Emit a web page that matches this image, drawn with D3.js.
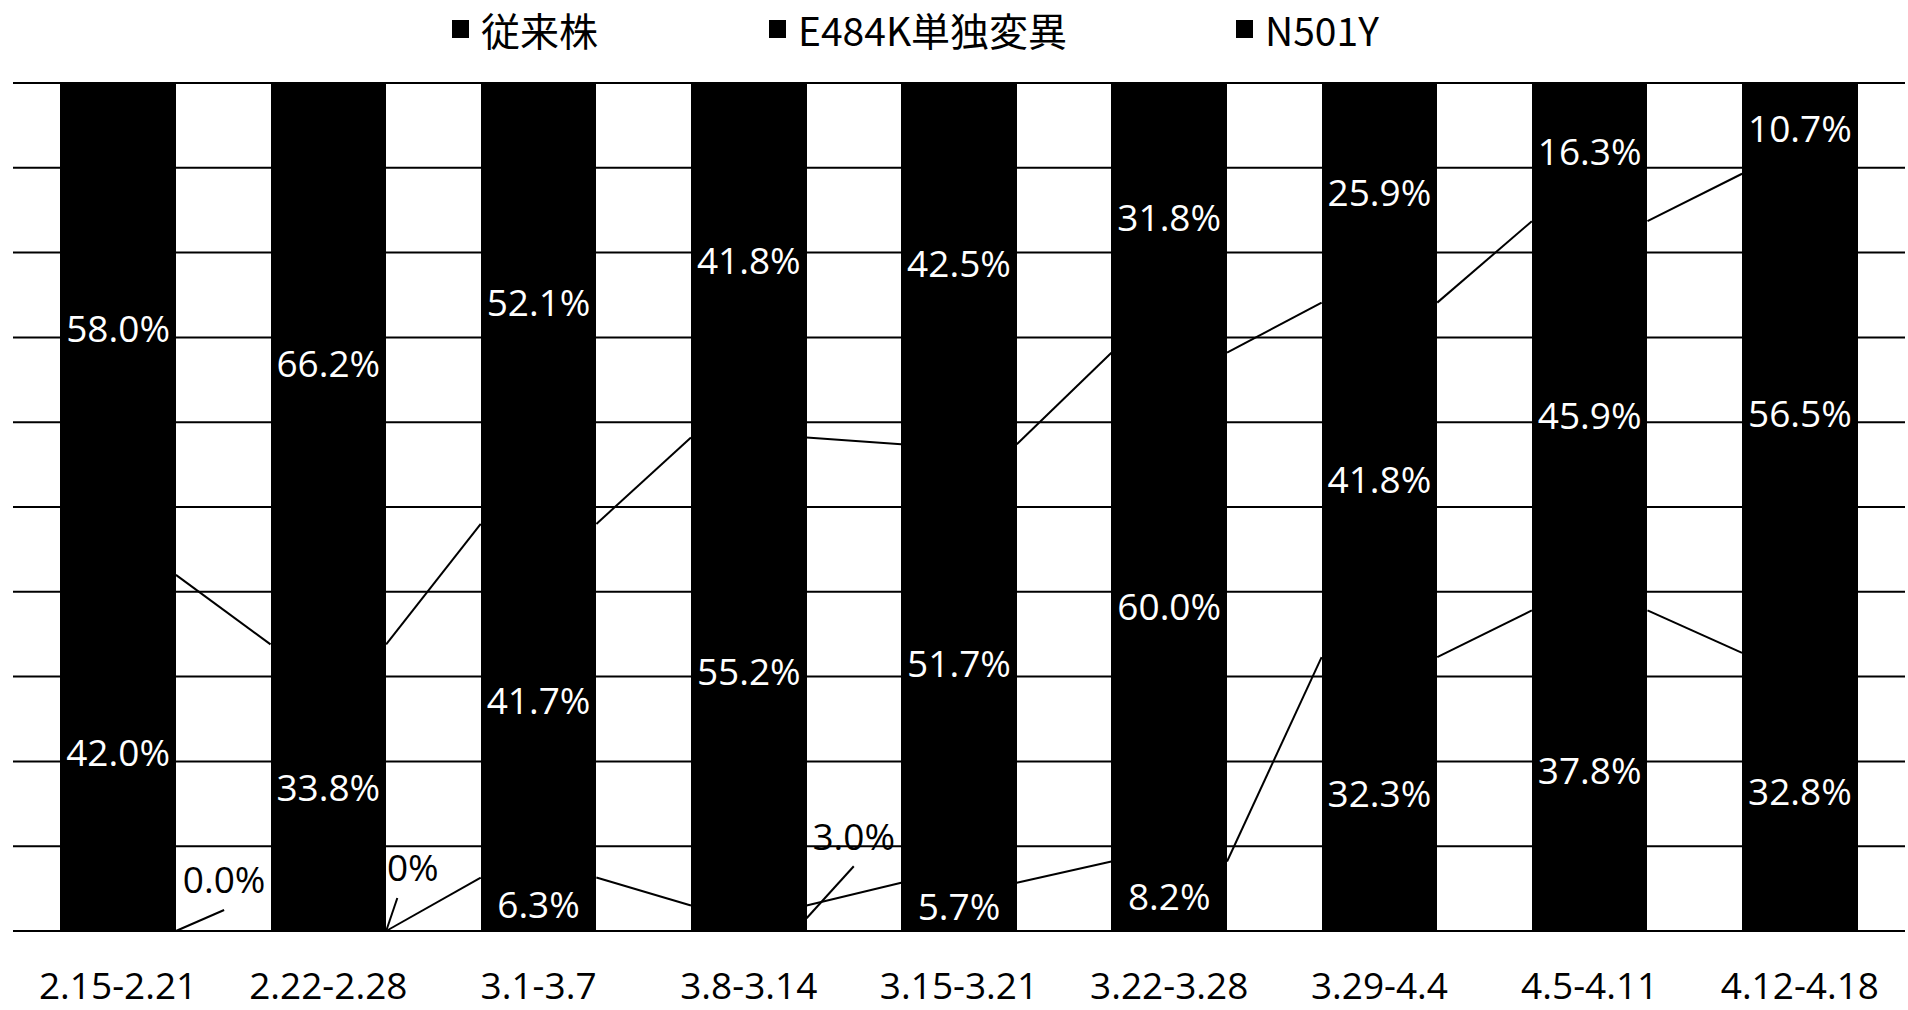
<!DOCTYPE html>
<html>
<head>
<meta charset="utf-8">
<script src="https://cdn.jsdelivr.net/npm/d3@7"></script>
<style>
  html, body { margin: 0; padding: 0; background: #fff; }
  svg { display: block; }
</style>
</head>
<body>
<div id="chart"></div>
<script>
// weekly periods
const categories = ['2.15-2.21', '2.22-2.28', '3.1-3.7', '3.8-3.14', '3.15-3.21', '3.22-3.28', '3.29-4.4', '4.5-4.11', '4.12-4.18'];

// share of each strain (%)
const conventional = [58.0, 66.2, 52.1, 41.8, 42.5, 31.8, 25.9, 16.3, 10.7];
const e484k = [42.0, 33.8, 41.7, 55.2, 51.7, 60.0, 41.8, 45.9, 56.5];
const n501y = [0.0, 0.0, 6.3, 3.0, 5.7, 8.2, 32.3, 37.8, 32.8];

const seriesNames = ['従来株', 'E484K単独変異', 'N501Y'];
const yTicks = [0, 10, 20, 30, 40, 50, 60, 70, 80, 90, 100];

// labels that were dragged off the bar (series key -> bar index -> pixel offset)
const movedLabels = {
    n501y: { 0: { dx: 106, dy: -51 }, 1: { dx: 69, dy: -63 }, 3: { dx: 105, dy: -82 } }
};

function renderChart() {
    const width = 1908;
    const height = 1010;

    const svg = d3.select('#chart')
        .append('svg')
        .attr('width', width)
        .attr('height', height);

    const rows = categories.map((c, i) => ({
        cat: c, n501y: n501y[i], e484k: e484k[i], conventional: conventional[i]
    }));

    // bottom to top
    const keys = ['n501y', 'e484k', 'conventional'];
    const stacked = d3.stack().keys(keys)(rows);

    const x = d3.scaleBand()
        .domain(categories)
        .range([13, 1905])
        .paddingInner(0.45)
        .paddingOuter(0.225);

    const y = d3.scaleLinear()
        .domain([0, 100])
        .range([931, 83]);

    // gridlines
    svg.append('g')
        .selectAll('line')
        .data(yTicks)
        .enter()
        .append('line')
        .attr('x1', 13)
        .attr('x2', 1905)
        .attr('y1', d => y(d))
        .attr('y2', d => y(d))
        .attr('stroke', '#000')
        .attr('stroke-width', 2);

    // bars (all black in the scan)
    svg.append('g')
        .attr('shape-rendering', 'crispEdges')
        .selectAll('g')
        .data(stacked)
        .enter()
        .append('g')
        .selectAll('rect')
        .data(d => d)
        .enter()
        .append('rect')
        .attr('x', d => x(d.data.cat))
        .attr('y', d => y(d[1]) - 0.5)
        .attr('width', x.bandwidth())
        .attr('height', d => y(d[0]) - y(d[1]) + 1)
        .attr('fill', '#000');

    // series lines between neighbouring bars
    const seriesG = svg.append('g');
    stacked.slice(0, 2).forEach(layer => {
        for (let i = 0; i < layer.length - 1; i++) {
            seriesG.append('line')
                .attr('x1', x(categories[i]) + x.bandwidth())
                .attr('y1', y(layer[i][1]))
                .attr('x2', x(categories[i + 1]))
                .attr('y2', y(layer[i + 1][1]))
                .attr('stroke', '#000')
                .attr('stroke-width', 2);
        }
    });

    // data labels
    const fmt = d => d3.format('.1f')(d) + '%';
    const labelG = svg.append('g')
        .attr('font-family', '"Open Sans", "Noto Sans", sans-serif')
        .attr('font-size', 37)
        .attr('text-anchor', 'middle');

    stacked.forEach(layer => {
        layer.forEach((d, i) => {
            const cx = x(d.data.cat) + x.bandwidth() / 2;
            const cy = y((d[0] + d[1]) / 2);
            const moved = movedLabels[layer.key] && movedLabels[layer.key][i];
            if (moved) {
                const lx = cx + moved.dx;
                const ly = cy + moved.dy;
                labelG.append('line')
                    .attr('x1', x(d.data.cat) + x.bandwidth())
                    .attr('y1', cy)
                    .attr('x2', lx)
                    .attr('y2', ly + 30)
                    .attr('stroke', '#000')
                    .attr('stroke-width', 2);
                // black text: whatever overlaps a bar disappears into it
                labelG.append('text')
                    .attr('x', lx)
                    .attr('y', ly)
                    .attr('dy', '0.36em')
                    .attr('fill', '#000')
                    .text(fmt(d.data[layer.key]));
            } else {
                labelG.append('text')
                    .attr('x', cx)
                    .attr('y', cy)
                    .attr('dy', '0.36em')
                    .attr('fill', '#fff')
                    .text(fmt(d.data[layer.key]));
            }
        });
    });

    // category axis labels
    svg.append('g')
        .attr('font-family', '"Open Sans", "Noto Sans", sans-serif')
        .attr('font-size', 37)
        .attr('text-anchor', 'middle')
        .selectAll('text')
        .data(categories)
        .enter()
        .append('text')
        .attr('x', d => x(d) + x.bandwidth() / 2)
        .attr('y', 999)
        .attr('fill', '#000')
        .text(d => d);

    // legend
    const legendX = [452, 769, 1236];
    const legend = svg.append('g')
        .attr('font-family', '"Noto Sans CJK JP", "Open Sans", sans-serif')
        .attr('font-size', 39);
    seriesNames.forEach((name, i) => {
        legend.append('rect')
            .attr('x', legendX[i])
            .attr('y', 20)
            .attr('width', 17)
            .attr('height', 18)
            .attr('fill', '#000');
        legend.append('text')
            .attr('x', legendX[i] + 29)
            .attr('y', 46)
            .attr('fill', '#000')
            .text(name);
    });
}

renderChart();
</script>
</body>
</html>
